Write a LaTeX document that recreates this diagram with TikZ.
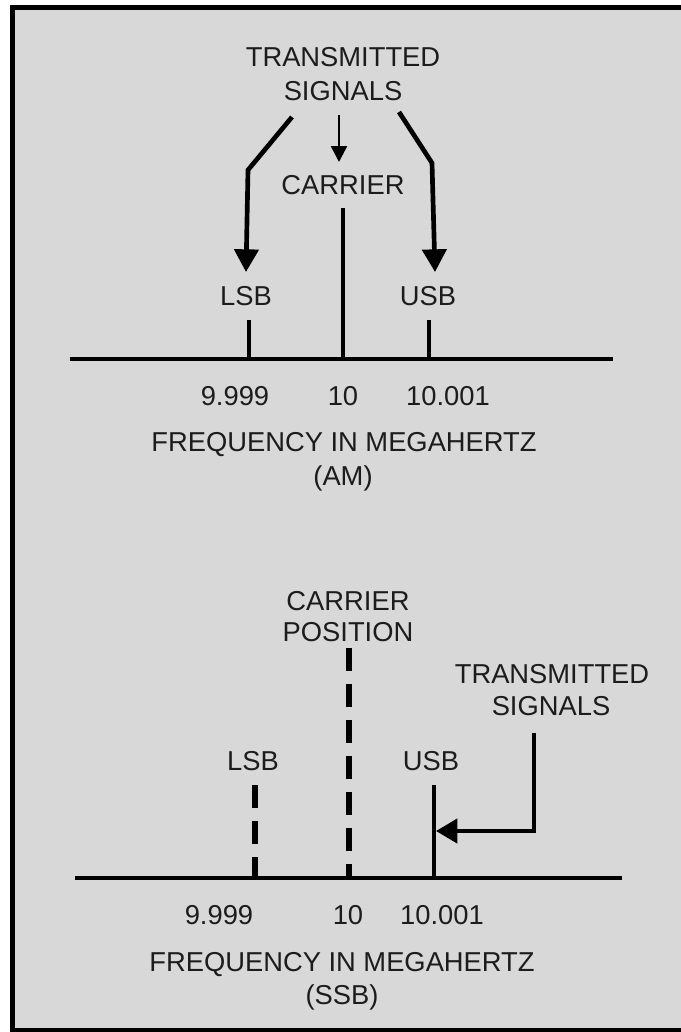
\documentclass[tikz,border=0pt]{standalone}
\usepackage{fontspec}
\setmainfont{Liberation Sans}
\usetikzlibrary{arrows.meta}
\definecolor{bg}{RGB}{216,216,216}
\definecolor{ink}{RGB}{28,28,28}
\begin{document}
\begin{tikzpicture}[x=0.75pt,y=-0.75pt,
  lbl/.style={inner sep=0pt, text=ink, font=\fontsize{20.5}{25}\selectfont},
  axisline/.style={line width=3.5pt},
  ticksolid/.style={line width=3pt},
  dashtick/.style={line width=4pt, dash pattern=on 17pt off 10pt},
  bigarrow/.style={line width=3.5pt, line join=miter, -{Triangle[length=17pt,width=18pt]}},
  smallarrow/.style={line width=2pt, -{Triangle[length=12pt,width=12pt]}},
  sidearrow/.style={line width=3.3pt, line join=miter, -{Triangle[length=16pt,width=18pt]}}
]
\useasboundingbox (0,0) rectangle (681,1032);
\fill[white] (0,0) rectangle (681,1032);
\filldraw[fill=bg, draw=black, line width=3.75pt] (12.5,7.5) rectangle (700,1030.5);

% ---------- AM ----------
\node[lbl] (tsA1) at (343,57) {TRANSMITTED};
\node[lbl] (tsA2) at (343,91) {SIGNALS};
\node[lbl] (carA) at (343,185) {CARRIER};
\node[lbl] (lsbA) at (246,296) {LSB};
\node[lbl] (usbA) at (428,296) {USB};

\coordinate (aL) at (70,359);
\coordinate (aR) at (613,359);
\draw[axisline] (aL) -- (aR);

\coordinate (lsbAtop) at (249,320);
\coordinate (lsbAbot) at (249,359);
\coordinate (carAtop) at (343,208);
\coordinate (carAbot) at (343,359);
\coordinate (usbAtop) at (429,320);
\coordinate (usbAbot) at (429,359);
\draw[ticksolid] (lsbAtop) -- (lsbAbot);
\draw[ticksolid] (carAtop) -- (carAbot);
\draw[ticksolid] (usbAtop) -- (usbAbot);

\coordinate (arLs) at (292,117);
\coordinate (arLb) at (248,170);
\coordinate (arLt) at (246,272);
\draw[bigarrow] (arLs) -- (arLb) -- (arLt);
\coordinate (arCs) at (339,115);
\coordinate (arCt) at (339,162);
\draw[smallarrow] (arCs) -- (arCt);
\coordinate (arRs) at (399,112);
\coordinate (arRb) at (432,163);
\coordinate (arRt) at (435,272);
\draw[bigarrow] (arRs) -- (arRb) -- (arRt);

\node[lbl] (nA1) at (235,396) {9.999};
\node[lbl] (nA2) at (343,396) {10};
\node[lbl] (nA3) at (448,396) {10.001};
\node[lbl] (frA) at (344,445) {FREQUENCY IN MEGAHERTZ};
\node[lbl] (amA) at (343,478) {(AM)};

% ---------- SSB ----------
\node[lbl] (carB1) at (348,601) {CARRIER};
\node[lbl] (carB2) at (348,632) {POSITION};
\node[lbl] (tsB1) at (552,674) {TRANSMITTED};
\node[lbl] (tsB2) at (551,706) {SIGNALS};
\node[lbl] (lsbB) at (253,761) {LSB};
\node[lbl] (usbB) at (431,761) {USB};

\coordinate (bL) at (75,878);
\coordinate (bR) at (622,878);
\draw[axisline] (bL) -- (bR);

\coordinate (carBtop) at (349,648);
\coordinate (carBbot) at (349,878);
\draw[dashtick] (carBtop) -- (carBbot);
\coordinate (lsbBtop) at (255,785);
\coordinate (lsbBbot) at (255,878);
\draw[dashtick] (lsbBtop) -- (lsbBbot);
\coordinate (usbBtop) at (434,785);
\coordinate (usbBbot) at (434,878);
\draw[ticksolid, line width=3.5pt] (usbBtop) -- (usbBbot);

\coordinate (sAs) at (534,733);
\coordinate (sAb) at (534,831);
\coordinate (sAt) at (436,831);
\draw[sidearrow] (sAs) -- (sAb) -- (sAt);

\node[lbl] (nB1) at (219,915) {9.999};
\node[lbl] (nB2) at (348,915) {10};
\node[lbl] (nB3) at (442,915) {10.001};
\node[lbl] (frB) at (342,965) {FREQUENCY IN MEGAHERTZ};
\node[lbl] (ssbB) at (342,997) {(SSB)};
\end{tikzpicture}
\end{document}
